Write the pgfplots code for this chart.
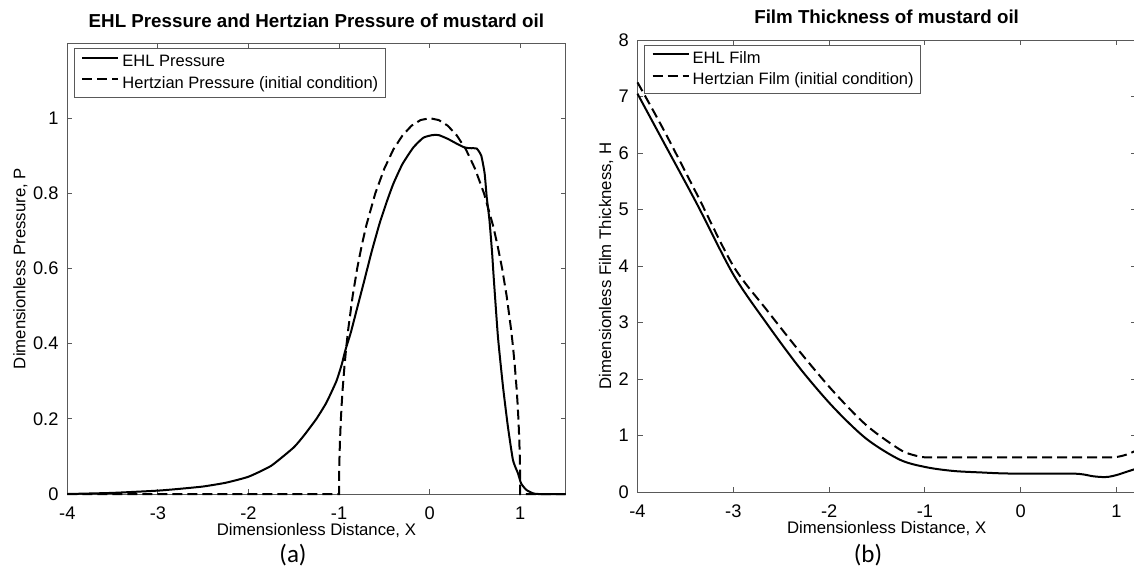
\documentclass[border=0pt]{standalone}
\usepackage{fontspec}
\setmainfont{Liberation Sans}
\newfontfamily\capfont{Carlito}
\usepackage{pgfplots}
\pgfplotsset{compat=1.18}

% MATLAB-like look, 1 px of the reference = 0.4pt
\pgfplotsset{
  matlab/.style={
    scale only axis,
    clip=false,
    axis line style={draw=black!65, line width=0.4pt},
    every tick/.style={draw=black!65, line width=0.4pt},
    major tick length=2pt,
    tick label style={font=\fontsize{7.3}{8}\selectfont},
    xticklabel style={yshift=-1.5pt},
    /pgf/number format/assume math mode=true,
    label style={font=\fontsize{6.7}{8}\selectfont},
    every axis title shift=0pt,
    title style={font=\bfseries\fontsize{7.5}{9}\selectfont, at={(0.5,1)}, anchor=base, yshift=6.2pt},
    xlabel style={at={(0.5,0)}, anchor=base, yshift=-16.4pt},
    legend cell align=left,
    legend style={anchor=north west, draw=black!65, line width=0.4pt, fill=white,
      font=\fontsize{6.6}{8}\selectfont, inner xsep=2.7pt, inner ysep=2.1pt,
      column sep=1.2pt, row sep=2.1pt,
      nodes={inner sep=0pt, text height=5pt, text depth=1.5pt}},
    legend image code/.code={\draw[#1] (0pt,1.75pt) -- (14.4pt,1.75pt);},
  },
  ehl/.style={black, line width=0.8pt},
  hz/.style={black, line width=0.8pt, dash pattern=on 4pt off 2pt},
}

\begin{document}
\begin{tikzpicture}

% (a) pressure
\begin{axis}[
    matlab,
    at={(26.92pt,31.2pt)}, anchor=south west,
    width=199.3pt, height=180.4pt,
    xmin=-4, xmax=1.5, ymin=0, ymax=1.2,
    xtick={-4,-3,-2,-1,0,1},
    ytick={0,0.2,0.4,0.6,0.8,1},
    title={EHL Pressure and Hertzian Pressure of mustard oil},
    xlabel={Dimensionless Distance, X},
    ylabel={Dimensionless Pressure, P},
    ylabel style={at={(axis description cs:-0.0943,0.5)}, anchor=center},
    legend style={at={(0.0138,0.988)}},
  ]
  \addplot[ehl, smooth, tension=0.3] coordinates {
    (-4,0) (-3.5,0.003) (-3,0.009) (-2.75,0.014) (-2.5,0.02) (-2.25,0.03)
    (-2,0.046) (-1.75,0.075) (-1.5,0.124) (-1.38,0.158) (-1.25,0.2)
    (-1.14,0.243) (-1.03,0.30) (-0.97,0.345) (-0.93,0.383) (-0.87,0.43)
    (-0.8,0.495) (-0.73,0.56) (-0.64,0.645) (-0.55,0.722) (-0.47,0.78)
    (-0.4,0.826) (-0.3,0.878) (-0.18,0.922) (-0.07,0.948) (0.03,0.955)
    (0.1,0.955) (0.2,0.945) (0.3,0.932) (0.386,0.922) (0.45,0.92)
    (0.52,0.919) (0.57,0.90) (0.607,0.853) (0.63,0.79) (0.66,0.729)
    (0.69,0.64) (0.706,0.58) (0.754,0.418) (0.81,0.285) (0.864,0.179)
    (0.92,0.09) (0.975,0.055) (1.01,0.028) (1.067,0.011) (1.14,0.002)
    (1.2,0) (1.5,0)
  };
  \addlegendentry{EHL Pressure}
  \addplot[hz] coordinates {
    (-4,0) (-1,0) (-0.998,0.063) (-0.995,0.100) (-0.99,0.141) (-0.98,0.199)
    (-0.97,0.243) (-0.96,0.280) (-0.94,0.341) (-0.92,0.392) (-0.9,0.436)
    (-0.85,0.527) (-0.8,0.600) (-0.75,0.661) (-0.7,0.714) (-0.6,0.800)
    (-0.5,0.866) (-0.4,0.917) (-0.3,0.954) (-0.2,0.980) (-0.1,0.995) (0,1)
    (0.1,0.995) (0.2,0.980) (0.3,0.954) (0.4,0.917) (0.5,0.866) (0.6,0.800)
    (0.7,0.714) (0.75,0.661) (0.8,0.600) (0.85,0.527) (0.9,0.436)
    (0.92,0.392) (0.94,0.341) (0.96,0.280) (0.97,0.243) (0.98,0.199)
    (0.99,0.141) (0.995,0.100) (0.998,0.063) (1,0) (1.5,0)
  };
  \addlegendentry{Hertzian Pressure (initial condition)}
\end{axis}

% (b) film thickness
\begin{axis}[
    matlab,
    at={(255pt,32pt)}, anchor=south west,
    width=199.3pt, height=180.8pt,
    xmin=-4, xmax=1.2, ymin=0, ymax=8,
    xtick={-4,-3,-2,-1,0,1},
    ytick={0,1,2,3,4,5,6,7,8},
    title={Film Thickness of mustard oil},
    title style={yshift=0.4pt},
    xlabel={Dimensionless Distance, X},
    ylabel={Dimensionless Film Thickness, H},
    ylabel style={at={(axis description cs:-0.0632,0.5)}, anchor=center},
    legend style={at={(0.014,0.989)}},
  ]
  \addplot[ehl, smooth, tension=0.5] coordinates {
    (-4,7.05) (-3.73,6.2) (-3.38,5.1) (-3,3.85) (-2.65,2.98) (-2.3,2.18)
    (-1.956,1.5) (-1.61,0.94) (-1.26,0.57) (-0.98,0.437) (-0.7,0.372)
    (-0.4,0.345) (-0.2,0.33) (0,0.325) (0.3,0.325) (0.55,0.325)
    (0.65,0.312) (0.75,0.28) (0.85,0.265) (0.92,0.27) (1.0,0.30)
    (1.1,0.355) (1.2,0.41)
  };
  \addlegendentry{EHL Film}
  \addplot[hz, smooth, tension=0.5] coordinates {
    (-4,7.25) (-3.73,6.42) (-3.38,5.27) (-3,4.0) (-2.65,3.22) (-2.3,2.47)
    (-1.956,1.78) (-1.61,1.18) (-1.26,0.75) (-1.1,0.645) (-1.0,0.614)
    (-0.8,0.612) (0,0.612) (0.9,0.612) (1.0,0.62) (1.1,0.66) (1.2,0.73)
  };
  \addlegendentry{Hertzian Film (initial condition)}
\end{axis}

\node[font=\capfont\fontsize{10}{12}\selectfont] at (117.2pt,6.8pt) {(a)};
\node[font=\capfont\fontsize{10}{12}\selectfont] at (347.2pt,6.8pt) {(b)};

\pgfresetboundingbox
\path[use as bounding box] (0,0) rectangle (453.6pt,228.8pt);
\end{tikzpicture}
\end{document}
